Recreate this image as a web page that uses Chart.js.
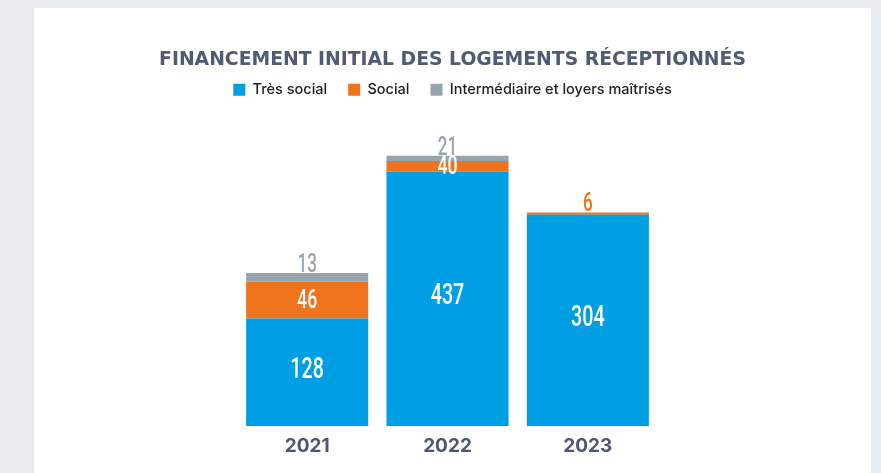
<!DOCTYPE html>
<html><head><meta charset="utf-8">
<script src="https://cdn.jsdelivr.net/npm/chart.js@4"></script>
<style>
html,body{margin:0;padding:0;background:#e8ebee;width:881px;height:473px;overflow:hidden}
#panel{position:absolute;left:34px;top:8px;width:837px;height:465px;background:#fff}
</style></head><body>
<div id="panel"><canvas id="c"></canvas></div>
<script>
const categories = ['2021', '2022', '2023'];
const tresSocial = [128, 437, 304];
const social = [46, 40, 6];
const intermediaire = [13, 21, 0];
const seriesNames = ['Très social', 'Social', 'Intermédiaire et loyers maîtrisés'];
const seriesColors = ['#009fe3', '#ef741d', '#96a4ae'];
const labelColors = ['#ffffff', '#ee7219', '#9aa5af'];
const titleText = 'FINANCEMENT INITIAL DES LOGEMENTS RÉCEPTIONNÉS';

const valueLabels = {
  id: 'valueLabels',
  afterDatasetsDraw(chart) {
    const ctx = chart.ctx;
    const ds = chart.data.datasets;
    chart.data.labels.forEach((lab, i) => {
      let topDs = -1;
      ds.forEach((d, k) => { if (d.data[i] > 0) topDs = k; });
      ds.forEach((d, k) => {
        const v = d.data[i];
        if (!v) return;
        const el = chart.getDatasetMeta(k).data[i];
        let y, color, size, base;
        if (k === 0) { y = (el.y + el.base) / 2 - 2; color = '#fff'; size = 29; base = 'middle'; }
        else if (k === topDs) { y = el.y - 1; color = labelColors[k]; size = 25; base = 'alphabetic'; }
        else { y = (el.y + el.base) / 2 + 1; color = '#fff'; size = 26; base = 'middle'; }
        ctx.save();
        ctx.translate(el.x, y);
        ctx.scale(0.68, 1);
        ctx.font = '500 ' + size + 'px Roboto';
        ctx.textAlign = 'center';
        ctx.textBaseline = base;
        ctx.fillStyle = color;
        ctx.fillText(String(v), 0, 0);
        ctx.restore();
      });
    });
  }
};

const hiddenAxis = { grid: { display: false, drawTicks: false }, border: { display: false }, ticks: { display: false } };

new Chart(document.getElementById('c'), {
  type: 'bar',
  data: {
    labels: categories,
    datasets: [
      { label: seriesNames[0], data: tresSocial, backgroundColor: seriesColors[0] },
      { label: seriesNames[1], data: social, backgroundColor: seriesColors[1] },
      { label: seriesNames[2], data: intermediaire, backgroundColor: seriesColors[2] }
    ]
  },
  options: {
    responsive: true,
    maintainAspectRatio: false,
    animation: false,
    layout: { padding: { left: 0, right: 0, top: 0, bottom: 6 } },
    datasets: { bar: { categoryPercentage: 1, barPercentage: 0.87, borderWidth: 0 } },
    scales: {
      x: {
        stacked: true,
        grid: { display: false, drawTicks: false },
        border: { display: false },
        ticks: { color: '#4e5673', font: { family: 'Inter', size: 19, weight: 'bold' }, padding: 9 }
      },
      y: Object.assign({
        type: 'logarithmic',
        position: 'left',
        stacked: true,
        min: 52,
        max: 748,
        bounds: 'data',
        afterFit(s) { s.width = 203; }
      }, hiddenAxis),
      yRight: Object.assign({
        type: 'linear',
        position: 'right',
        afterFit(s) { s.width = 213; }
      }, hiddenAxis)
    },
    plugins: {
      title: {
        display: true,
        text: titleText,
        color: '#525a76',
        font: { family: 'DejaVu Sans', size: 18.8, weight: 'bold', lineHeight: 1.2 },
        padding: { top: 41, bottom: -10 }
      },
      legend: {
        display: true,
        labels: {
          boxWidth: 12, boxHeight: 12, padding: 21,
          color: '#222222',
          font: { family: 'Inter', size: 14.5, weight: '500' }
        }
      },
      tooltip: { enabled: false }
    }
  },
  plugins: [valueLabels]
});
</script>
</body></html>
